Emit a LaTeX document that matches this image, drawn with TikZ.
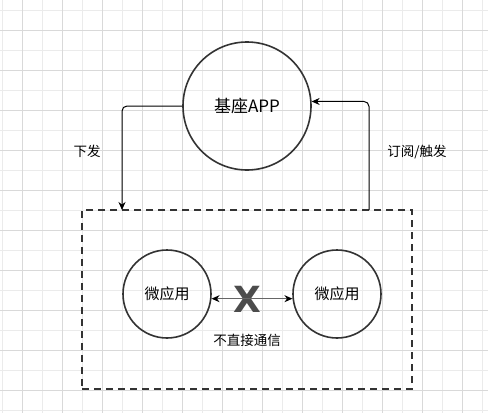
\documentclass[tikz,border=0pt]{standalone}
\usepackage{fontspec}
\newfontfamily\cjk{Noto Sans CJK SC}
\newfontfamily\markfont{DejaVu Sans}
\usepackage{tikz}
\usetikzlibrary{arrows.meta, positioning}

\begin{document}
\begin{tikzpicture}[x=1pt, y=-1pt,
    app/.style={circle, draw=black!80, line width=1.6pt, minimum size=128pt, inner sep=0pt, font=\cjk\fontsize{17}{20}\selectfont},
    micro/.style={circle, draw=black!80, line width=1.6pt, minimum size=88pt, inner sep=0pt, font=\cjk\fontsize{15}{18}\selectfont},
    group/.style={rectangle, draw=black!80, line width=1.6pt, dash pattern=on 7pt off 5pt, minimum width=330pt, minimum height=179pt},
    tag/.style={font=\cjk\fontsize{13.5}{16}\selectfont},
    arrow/.style={line width=1pt, rounded corners=5pt, -{Stealth[length=8pt,width=7pt]}},
    twoway/.style={line width=1pt, draw=black!60, {Stealth[length=8pt,width=7pt,color=black]}-{Stealth[length=8pt,width=7pt,color=black]}},
    minorline/.style={black!8, line width=0.8pt},
    majorline/.style={black!15, line width=0.8pt}]

    % Canvas and grid
    \useasboundingbox (0,0) rectangle (488,413);
    \fill [white] (0,0) rectangle (488,413);
    \foreach \x in {2,42,...,482} \draw [minorline] (\x,0) -- (\x,413);
    \foreach \y in {10,50,...,410} \draw [minorline] (0,\y) -- (488,\y);
    \foreach \x in {22,62,...,462} \draw [majorline] (\x,0) -- (\x,413);
    \foreach \y in {30,70,...,390} \draw [majorline] (0,\y) -- (488,\y);

    % Base app
    \node [app] (base) at (247,106) {基座APP};

    % Micro apps
    \node [group] (box) at (247,299.5) {};
    \node [micro] (microL) at (167,294) {微应用};
    \node [micro] (microR) at (337,294) {微应用};
    \node [text=black!70, font=\markfont\bfseries\fontsize{36}{38}\selectfont, inner sep=0pt] (cross) at (247,299) {X};

    % Arrows
    \coordinate (down) at (122,210);
    \coordinate (up) at (369,210);
    \draw [arrow] (base.west) -| (down);
    \draw [arrow] (up) |- (base.4);
    \draw [twoway] (microL.-6) -- (microR.186);

    % Labels
    \node [tag] (send) at (87,151) {下发};
    \node [tag] (sub) at (417,152) {订阅/触发};
    \node [tag] (nocomm) at (247,340) {不直接通信};
\end{tikzpicture}
\end{document}
